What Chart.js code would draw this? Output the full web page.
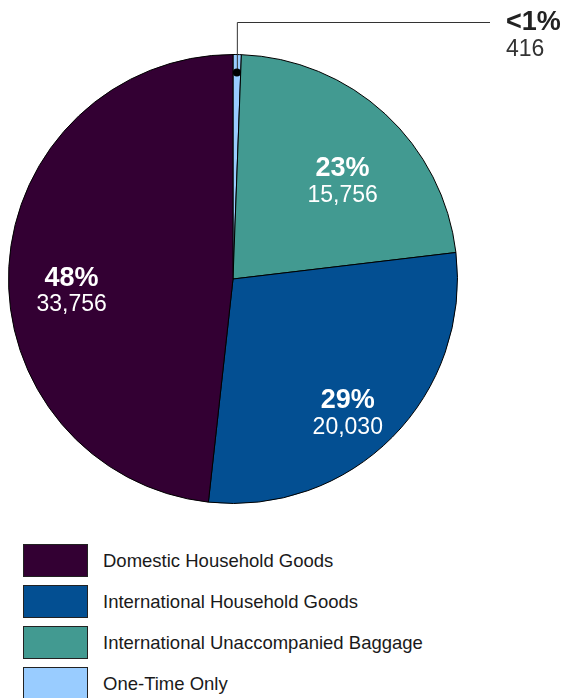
<!DOCTYPE html>
<html>
<head>
<meta charset="utf-8">
<script src="https://cdn.jsdelivr.net/npm/chart.js@4"></script>
<style>
  body { margin: 0; background: #fff; font-family: "Liberation Sans", Arial, sans-serif; }
  .wrap { position: relative; width: 564px; height: 698px; }
  .chart-box { position: absolute; left: 0; top: 0; width: 564px; height: 520px; }
  .legend { position: absolute; left: 23px; top: 544px; margin: 0; padding: 0; list-style: none; }
  .legend li { display: flex; align-items: center; height: 33px; margin-bottom: 8px; }
  .legend .swatch { width: 63px; height: 31px; border: 1px solid #222; margin-right: 15px; }
  .legend .name { font-size: 18.5px; color: #1a1a1a; }
</style>
</head>
<body>
<div class="wrap">
  <div class="chart-box"><canvas id="shipments"></canvas></div>
  <ul class="legend" id="legend"></ul>
</div>

<script>
// ------------ SHIPMENT DATA ---------------
const categories = ["Domestic Household Goods", "International Household Goods", "International Unaccompanied Baggage", "One-Time Only"];
const shipments = [33756, 20030, 15756, 416];
const colors = ["#330033", "#034f92", "#429a91", "#99ccff"];

const total = shipments.reduce((a, b) => a + b, 0);

// the pie runs the other way round from the legend, so feed it reversed
const pieLabels = categories.slice().reverse();
const pieValues = shipments.slice().reverse();
const pieColors = colors.slice().reverse();

const pctText = (v) => {
  const p = v / total * 100;
  return p < 1 ? "<1%" : Math.round(p) + "%";
};

// percent + count on every slice, tiny slices get a leader line out to the right
const sliceLabels = {
  id: "sliceLabels",
  afterDatasetsDraw(chart) {
    const ctx = chart.ctx;
    const area = chart.chartArea;
    const meta = chart.getDatasetMeta(0);
    meta.data.forEach((arc, i) => {
      const v = pieValues[i];
      const mid = (arc.startAngle + arc.endAngle) / 2;
      const r = arc.outerRadius;
      ctx.save();
      if (v / total < 0.01) {
        const px = arc.x + Math.cos(mid) * r * 0.92;
        const py = arc.y + Math.sin(mid) * r * 0.92;
        const lineY = area.top - 32;
        const lineEnd = area.right + 32;
        ctx.strokeStyle = "#333";
        ctx.lineWidth = 1;
        ctx.beginPath();
        ctx.moveTo(px + 0.5, py);
        ctx.lineTo(px + 0.5, lineY + 0.5);
        ctx.lineTo(lineEnd, lineY + 0.5);
        ctx.stroke();
        ctx.fillStyle = "#000";
        ctx.beginPath();
        ctx.arc(px, py, 4, 0, Math.PI * 2);
        ctx.fill();
        ctx.textAlign = "left";
        ctx.textBaseline = "middle";
        ctx.fillStyle = "#222";
        ctx.font = "bold 27px 'Liberation Sans', Arial";
        ctx.fillText(pctText(v), lineEnd + 16, lineY + 1);
        ctx.fillStyle = "#333";
        ctx.font = "23px 'Liberation Sans', Arial";
        ctx.fillText(v.toLocaleString("en-US"), lineEnd + 16, lineY + 28);
      } else {
        const tx = arc.x + Math.cos(mid) * r * 0.72;
        const ty = arc.y + Math.sin(mid) * r * 0.72 + 8;
        ctx.textAlign = "center";
        ctx.textBaseline = "middle";
        ctx.fillStyle = "#fff";
        ctx.font = "bold 27px 'Liberation Sans', Arial";
        ctx.fillText(pctText(v), tx, ty);
        ctx.font = "23px 'Liberation Sans', Arial";
        ctx.fillText(v.toLocaleString("en-US"), tx, ty + 27);
      }
      ctx.restore();
    });
  }
};

new Chart(document.getElementById("shipments"), {
  type: "pie",
  data: {
    labels: pieLabels,
    datasets: [
      {
        data: pieValues,
        backgroundColor: pieColors,
        borderColor: "#000",
        borderWidth: 1
      }
    ]
  },
  options: {
    responsive: true,
    maintainAspectRatio: false,
    animation: false,
    layout: {
      padding: { left: 8, top: 54, right: 106, bottom: 16 }
    },
    plugins: {
      legend: { display: false },
      tooltip: { enabled: false }
    }
  },
  plugins: [sliceLabels]
});

// ------------ LEGEND ---------------
const legendUl = document.getElementById("legend");
categories.forEach((c, i) => {
  let li = document.createElement("li");
  li.innerHTML = `<span class="swatch" style="background:${colors[i]}"></span><span class="name">${c}</span>`;
  legendUl.appendChild(li);
});
</script>
</body>
</html>
